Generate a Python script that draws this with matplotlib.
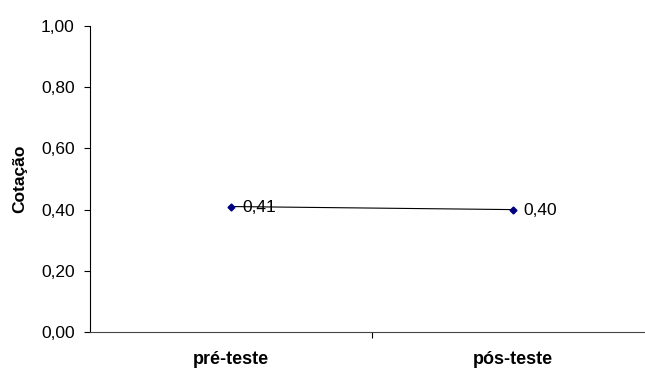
import matplotlib
matplotlib.use('Agg')

import matplotlib.pyplot as plt

CATEGORIES = ['pré-teste', 'pós-teste']
VALUES = [0.41, 0.40]
Y_TICKS = [0.0, 0.2, 0.4, 0.6, 0.8, 1.0]

plt.rcParams['font.family'] = ['Liberation Sans', 'DejaVu Sans']

fig = plt.figure(figsize=(6.45, 3.69), dpi=100)
ax = fig.add_axes([0.1395, 0.1003, 0.8605, 0.8292])

x = list(range(len(CATEGORIES)))
ax.plot(x, VALUES, '-', color='black', linewidth=0.8,
        marker='D', markersize=3.5, markerfacecolor='#000080',
        markeredgecolor='#000080')
for xi, v in zip(x, VALUES):
    ax.annotate(('%.2f' % v).replace('.', ','), (xi, v),
                xytext=(8, -1), textcoords='offset points',
                va='center', ha='left', fontsize=12.5)

ax.set_xlim(-0.5, 1.47)
ax.set_ylim(0, 1.0)
ax.set_yticks(Y_TICKS)
ax.set_yticklabels([('%.2f' % t).replace('.', ',') for t in Y_TICKS], fontsize=12.5)
ax.set_xticks([0.5])
ax.set_xticklabels([''])
ax.set_xticks(x, minor=True)
ax.set_xticklabels(CATEGORIES, minor=True, fontsize=13, fontweight='bold')
ax.tick_params(axis='x', which='minor', length=0, pad=14)
ax.tick_params(axis='x', which='major', length=4, direction='out')
ax.tick_params(axis='y', length=4, direction='out', pad=7)

ax.spines['top'].set_visible(False)
ax.spines['right'].set_visible(False)
ax.spines['left'].set_linewidth(0.8)
ax.spines['bottom'].set_linewidth(0.8)
ax.spines['bottom'].set_color('#444444')

ax.set_ylabel('Cotação', fontsize=12.5, fontweight='bold', labelpad=10)

fig.savefig('out.png', dpi=100)
